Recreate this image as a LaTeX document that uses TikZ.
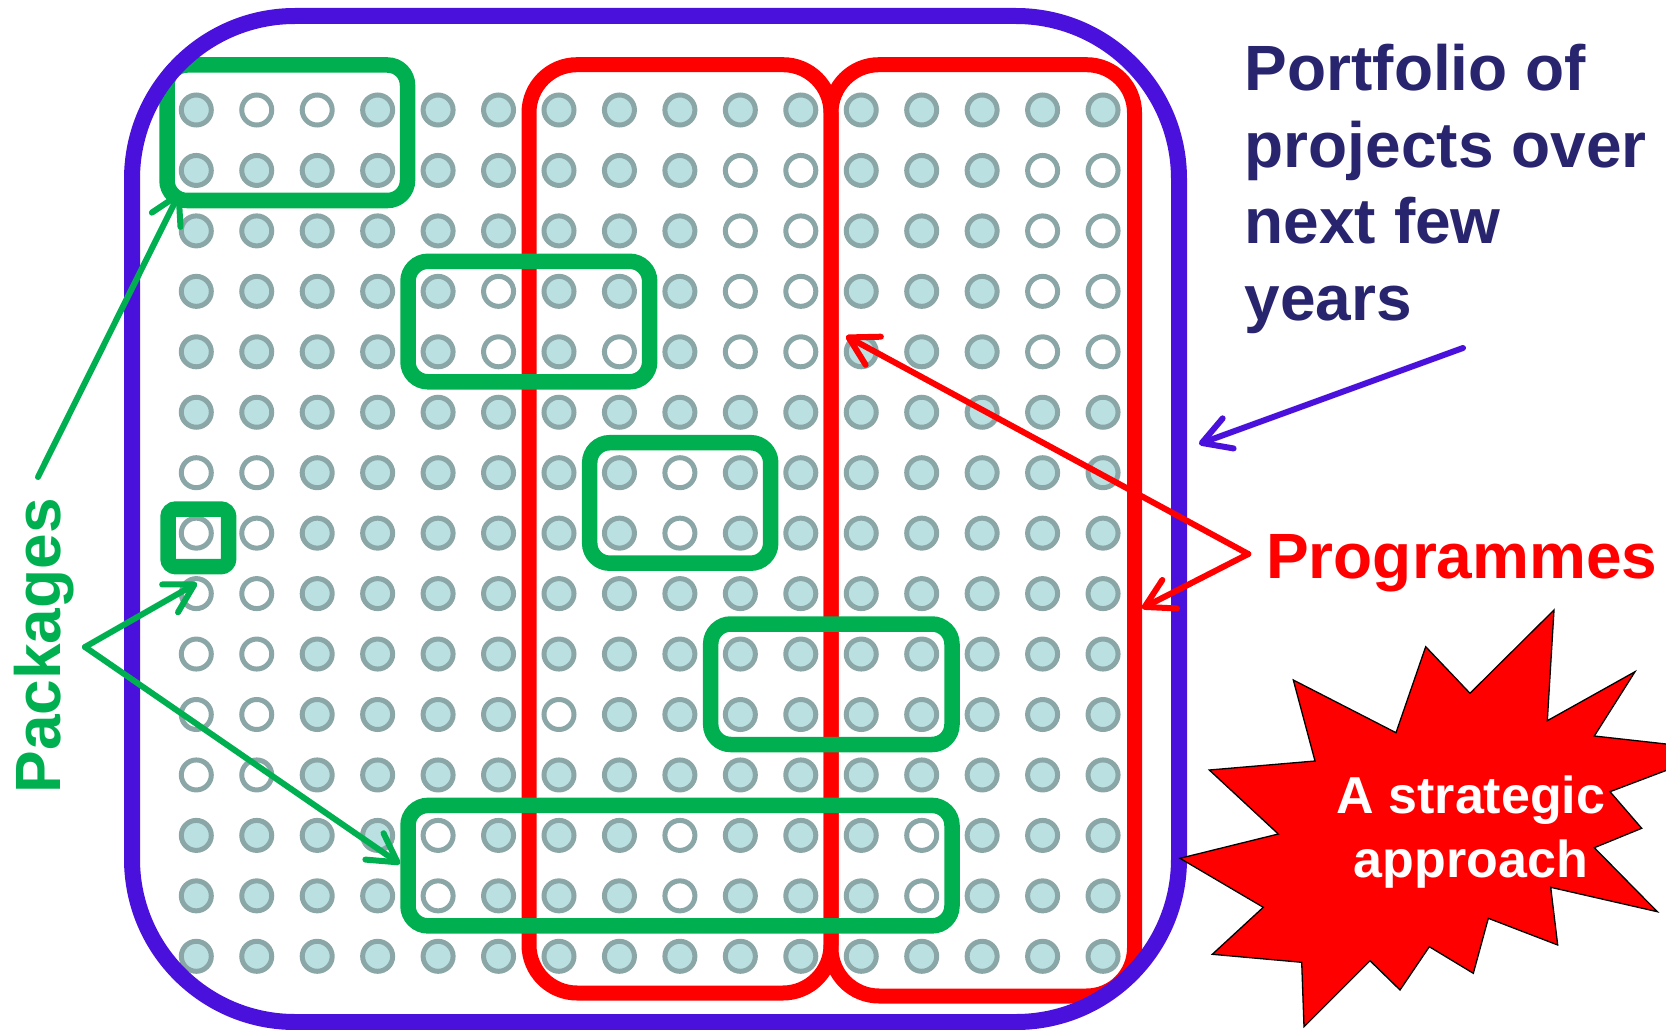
\documentclass[tikz,border=0pt]{standalone}
\usepackage{fontspec}
\setmainfont{Liberation Sans}
\usetikzlibrary{arrows.meta}
\definecolor{dotfill}{RGB}{186,224,226}
\definecolor{dotline}{RGB}{139,166,166}
\definecolor{pkggreen}{RGB}{0,176,80}
\definecolor{portblue}{RGB}{75,17,220}
\definecolor{navytext}{RGB}{40,36,110}
\definecolor{progred}{RGB}{255,0,0}
\foreach \i/\j in {1/0,2/0,
  9/1,10/1,14/1,15/1,
  9/2,10/2,14/2,15/2,
  5/3,9/3,10/3,14/3,15/3,
  5/4,7/4,9/4,10/4,14/4,15/4,
  0/6,1/6,8/6,
  0/7,1/7,8/7,
  0/8,1/8,
  0/9,1/9,
  0/10,1/10,6/10,
  0/11,1/11,
  4/12,8/12,12/12,
  4/13,8/13,12/13}{\expandafter\gdef\csname dotempty-\i-\j\endcsname{}}
\begin{document}
\begin{tikzpicture}[x=1pt,y=-1pt,
  dot/.style={draw=dotline, line width=5pt},
  pkgbox/.style={draw=pkggreen, line width=15.5pt, rounded corners=20pt},
  pkgsmall/.style={draw=pkggreen, line width=15.5pt, rounded corners=8pt},
  progbox/.style={draw=progred, line width=15pt, rounded corners=48pt},
  portbox/.style={draw=portblue, line width=16pt, rounded corners=163pt},
  arr/.style={line width=6pt, line cap=round, -{Straight Barb[length=28pt,width=32pt,round]}},
  bigtext/.style={font=\fontsize{64}{76.5}\selectfont\bfseries, inner sep=0pt},
  burst/.style={fill=progred, draw=black, line width=1.3pt, line join=miter}
]
\useasboundingbox (0,0) rectangle (1666,1030);

% grid of projects
\foreach \j in {0,...,14}{
  \foreach \i in {0,...,15}{
    \ifcsname dotempty-\i-\j\endcsname
      \draw[dot, fill=white] ({196.3+60.45*\i},{110+60.45*\j}) circle[radius=15];
    \else
      \draw[dot, fill=dotfill] ({196.3+60.45*\i},{110+60.45*\j}) circle[radius=15];
    \fi
  }
}

% programmes
\draw[progbox] (529,64.7) rectangle (831,993);
\draw[progbox] (831,64.7) rectangle (1134.5,996);

% packages
\draw[pkgbox] (167,65) rectangle (407.5,200.5);
\draw[pkgbox] (408,261.3) rectangle (649.7,381.8);
\draw[pkgbox] (589.7,442.7) rectangle (770.7,563.2);
\draw[pkgsmall] (168,509) rectangle (228.7,566.7);
\draw[pkgbox] (710.7,624) rectangle (952,744.5);
\draw[pkgbox] (408,805.4) rectangle (952,925.9);

% portfolio
\draw[portbox] (132,16) rectangle (1179,1022);

% starburst
\begin{scope}
\clip (0,0) rectangle (1666,1030);
\draw[burst] (1554,610) -- (1470,693.3) -- (1425.7,646.7) -- (1396,732.7)
  -- (1293.3,680) -- (1315,761) -- (1209.3,770) -- (1278.3,834)
  -- (1180,858.3) -- (1263.3,907.3) -- (1212.3,954.3) -- (1301.7,962.3)
  -- (1304,1026.7) -- (1370,960.7) -- (1400,990) -- (1429.3,946.7)
  -- (1473.3,973.3) -- (1488.3,918.3) -- (1557.7,945) -- (1550.7,887.3)
  -- (1657.3,911.7) -- (1594.3,847.7) -- (1641.7,828.3) -- (1610,791.7)
  -- (1720,750) -- (1594.3,736) -- (1635,671.7) -- (1547.3,720.7) -- cycle;
\end{scope}

% texts (base anchor of a multi-line node is the last line's baseline)
\node[bigtext, text=navytext, anchor=base west, align=left] (portfolio) at (1244.5,320.2)
  {Portfolio of\\projects over\\next few\\years};
\node[bigtext, text=progred, anchor=base west] (programmes) at (1266,578.7) {Programmes};
\node[bigtext, text=pkggreen, rotate=90, anchor=base] (packages) at (60,646) {Packages};
\node[font=\fontsize{52}{64.5}\selectfont\bfseries, text=white, align=center,
  anchor=base, inner sep=0pt] (strategic) at (1471,877.7) {A strategic\\approach};

% connector ends
\coordinate (pkgApex) at (85,647);
\coordinate (pkgTop) at (38,477);
\coordinate (pkgTipA) at (180,192);
\coordinate (pkgTipB) at (197,583);
\coordinate (pkgTipC) at (400,864);
\coordinate (progApex) at (1248.3,554);
\coordinate (progTipA) at (846,336);
\coordinate (progTipB) at (1142,608.3);
\coordinate (portStart) at (1463,348);
\coordinate (portTip) at (1199,444);

% arrows
\draw[arr, pkggreen] (pkgTop) -- (pkgTipA);
\draw[arr, pkggreen] (pkgApex) -- (pkgTipB);
\draw[arr, pkggreen] (pkgApex) -- (pkgTipC);
\draw[arr, progred] (progApex) -- (progTipA);
\draw[arr, progred] (progApex) -- (progTipB);
\draw[arr, portblue] (portStart) -- (portTip);
\end{tikzpicture}
\end{document}
